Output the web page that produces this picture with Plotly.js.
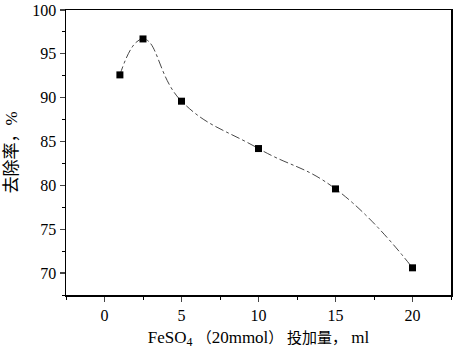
<!DOCTYPE html>
<html>
<head>
<meta charset="utf-8">
<script src="https://cdn.plot.ly/plotly-3.0.1.min.js"></script>
<style>html,body{margin:0;padding:0;background:#fff;}#chart{width:456px;height:354px;}</style>
</head>
<body>
<div id="chart"></div>
<script>
const dosage = [1, 2.5, 5, 10, 15, 20];
const removalRate = [92.6, 96.7, 89.6, 84.2, 79.6, 70.6];
const xTickVals = [0, 5, 10, 15, 20];
const yTickVals = [70, 75, 80, 85, 90, 95, 100];

const serif = '"Liberation Serif", "Times New Roman", "Noto Sans CJK SC", serif';

const traces = [
  {
    x: dosage, y: removalRate, type: 'scatter', mode: 'lines',
    line: {shape: 'spline', smoothing: 1.3, color: '#333', width: 0.9, dash: 'dashdot'},
    hoverinfo: 'skip', showlegend: false
  },
  {
    x: dosage, y: removalRate, type: 'scatter', mode: 'markers',
    marker: {symbol: 'square', size: 7, color: '#000'},
    showlegend: false
  }
];

const layout = {
  width: 456, height: 354,
  margin: {l: 66, r: 5, t: 10, b: 59},
  paper_bgcolor: '#fff', plot_bgcolor: '#fff',
  font: {family: serif, color: '#000', size: 16},
  xaxis: {
    range: [-2.5, 22.5], tickvals: xTickVals, ticks: 'outside', ticklen: 5, tickwidth: 1.2,
    showline: true, linecolor: '#000', linewidth: 1.5, mirror: true, showgrid: false, zeroline: false,
    tickfont: {family: serif, size: 16},
    minor: {dtick: 2.5, tick0: 0, ticks: 'outside', ticklen: 3, tickwidth: 1, tickcolor: '#000', showgrid: false},
    title: {text: 'FeSO<sub>4</sub> <span style="font-size:15px">（</span>20mmol<span style="font-size:15px">） 投加量，</span> ml', font: {family: serif, size: 17}, standoff: 8}
  },
  yaxis: {
    range: [67.5, 100], tickvals: yTickVals, ticks: 'outside', ticklen: 5, tickwidth: 1.2,
    showline: true, linecolor: '#000', linewidth: 1.5, mirror: true, showgrid: false, zeroline: false,
    tickfont: {family: serif, size: 16},
    minor: {dtick: 2.5, tick0: 0, ticks: 'outside', ticklen: 3, tickwidth: 1, tickcolor: '#000', showgrid: false},
    title: {text: '去除率，%', font: {family: serif, size: 17}, standoff: 10}
  }
};

Plotly.newPlot('chart', traces, layout, {staticPlot: true, displayModeBar: false});
</script>
</body>
</html>
